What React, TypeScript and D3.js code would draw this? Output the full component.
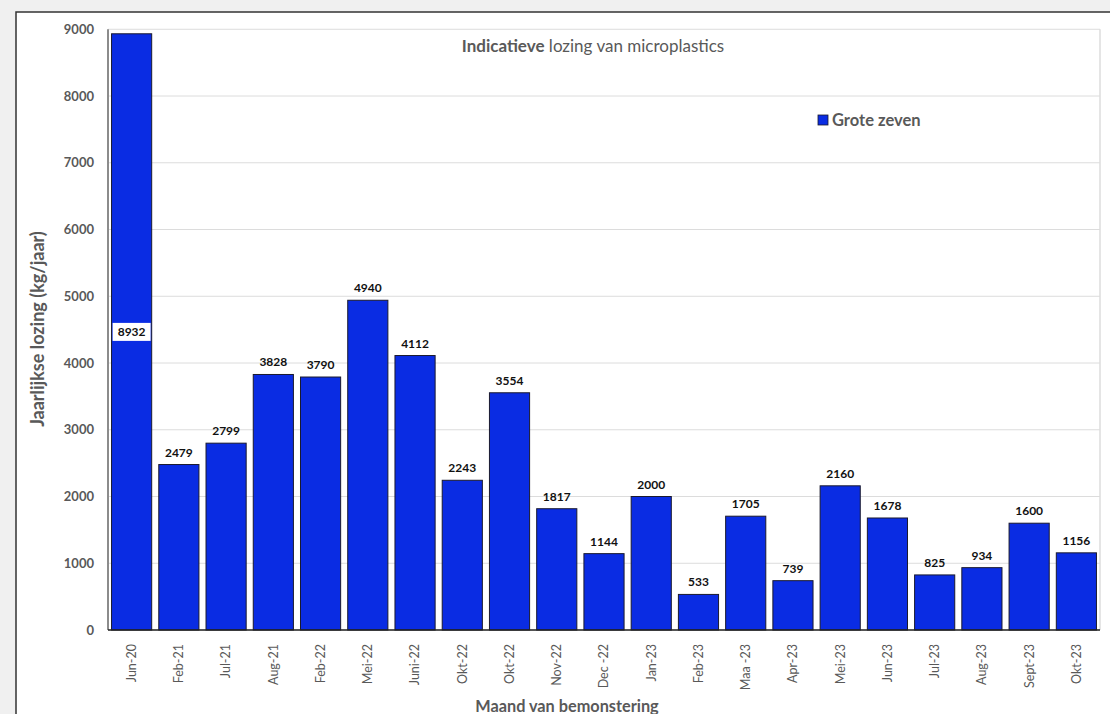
import React from "react";
import * as d3 from "d3";

const categories = [
  "Jun-20", "Feb-21", "Jul-21", "Aug-21", "Feb-22", "Mei-22", "Juni-22",
  "Okt-22", "Okt-22", "Nov-22", "Dec -22", "Jan-23", "Feb-23", "Maa -23",
  "Apr-23", "Mei-23", "Jun-23", "Jul-23", "Aug-23", "Sept-23", "Okt-23",
];
const values = [
  8932, 2479, 2799, 3828, 3790, 4940, 4112, 2243, 3554, 1817, 1144, 2000,
  533, 1705, 739, 2160, 1678, 825, 934, 1600, 1156,
];
const yTicks = [0, 1000, 2000, 3000, 4000, 5000, 6000, 7000, 8000, 9000];
const seriesName = "Grote zeven";

const W = 1110;
const H = 714;
const FONT = "Lato, 'Open Sans', sans-serif";
const GREY = "#595959";
const BAR = "#0a2ce3";

export default function App() {
  const left = 108;
  const right = 1100;
  const top = 29.25;
  const bottom = 630;

  const x = d3
    .scaleBand<number>()
    .domain(d3.range(categories.length))
    .range([left, right])
    .paddingInner(0.15)
    .paddingOuter(0.075);
  const y = d3.scaleLinear().domain([0, 9000]).range([bottom, top]);
  const bw = x.bandwidth();

  return (
    <svg
      width={W}
      height={H}
      style={{ position: "absolute", left: 0, top: 0, display: "block" }}
      fontFamily={FONT}
    >
      <rect x={0} y={0} width={W} height={H} fill="#f0f0f0" />
      <rect x={16} y={12} width={W + 20} height={H + 20} fill="#fff" stroke="#333" strokeWidth={1.5} />

      {/* gridlines */}
      {yTicks.map((t) => (
        <line key={t} x1={left} x2={right} y1={y(t)} y2={y(t)} stroke="#dcdcdc" strokeWidth={1} />
      ))}
      <line x1={right} x2={right} y1={top} y2={bottom} stroke="#dcdcdc" strokeWidth={1.5} />

      {/* y tick labels */}
      {yTicks.map((t) => (
        <text
          key={"l" + t}
          x={94}
          y={y(t)}
          dy="0.35em"
          textAnchor="end"
          fontSize={13}
          fontWeight={700}
          fill={GREY}
        >
          {t}
        </text>
      ))}

      {/* bars */}
      {values.map((v, i) => (
        <rect
          key={i}
          x={x(i)!}
          y={y(v)}
          width={bw}
          height={y(0) - y(v)}
          fill={BAR}
          stroke="#1a1a2e"
          strokeWidth={1}
        />
      ))}

      {/* axes */}
      <line x1={left} x2={left} y1={top} y2={bottom} stroke="#8c8c8c" strokeWidth={2} />
      <line x1={left} x2={right} y1={bottom} y2={bottom} stroke="#222" strokeWidth={1.5} />

      {/* value labels */}
      {values.map((v, i) => {
        const cx = x(i)! + bw / 2;
        if (v > 8000) {
          const cy = y(v / 2);
          return (
            <g key={"v" + i}>
              <rect x={cx - 19} y={cy - 9} width={38} height={18} fill="#fff" />
              <text x={cx} y={cy} dy="0.36em" textAnchor="middle" fontSize={12} fontWeight={700} fill="#111">
                {v}
              </text>
            </g>
          );
        }
        return (
          <text key={"v" + i} x={cx} y={y(v) - 8} textAnchor="middle" fontSize={12} fontWeight={700} fill="#111">
            {v}
          </text>
        );
      })}

      {/* x tick labels */}
      {categories.map((c, i) => {
        const cx = x(i)! + bw / 2;
        return (
          <text
            key={"c" + i}
            transform={`translate(${cx},${644}) rotate(-90)`}
            dy="0.35em"
            textAnchor="end"
            fontSize={12.5}
            fill={GREY}
          >
            {c}
          </text>
        );
      })}

      {/* title */}
      <text x={593} y={52} textAnchor="middle" fontSize={17} fill={GREY}>
        <tspan fontWeight={700}>Indicatieve</tspan>
        <tspan> lozing van microplastics</tspan>
      </text>

      {/* legend */}
      <rect x={818} y={115} width={10} height={10} fill={BAR} stroke="#1a1a2e" strokeWidth={0.8} />
      <text x={832} y={126} fontSize={16.5} fontWeight={700} fill={GREY}>
        {seriesName}
      </text>

      {/* axis titles */}
      <text
        transform={`translate(44,329) rotate(-90)`}
        textAnchor="middle"
        fontSize={18}
        fontWeight={700}
        fill={GREY}
      >
        Jaarlijkse lozing (kg/jaar)
      </text>
      <text x={567} y={712} textAnchor="middle" fontSize={16.3} fontWeight={700} fill={GREY}>
        Maand van bemonstering
      </text>
    </svg>
  );
}
